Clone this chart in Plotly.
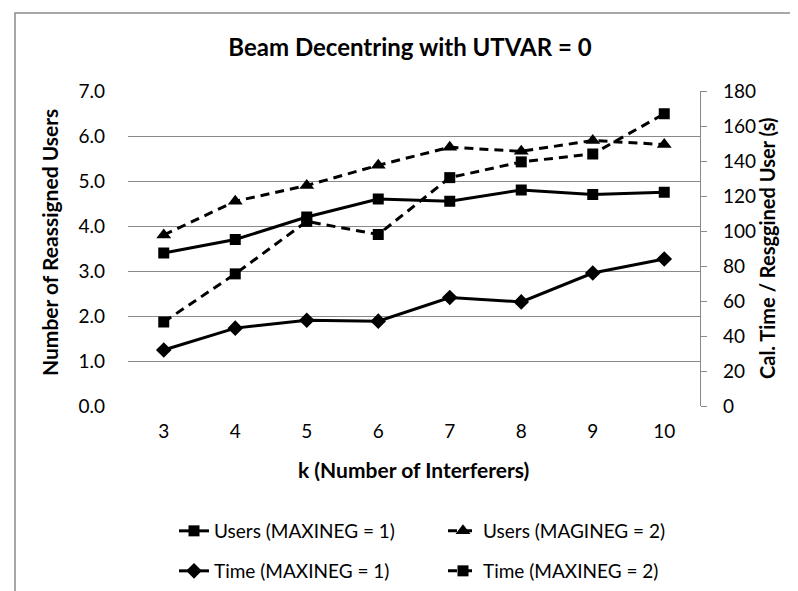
import plotly.graph_objects as go

k_values = [3, 4, 5, 6, 7, 8, 9, 10]
users_maxineg1 = [3.4, 3.7, 4.2, 4.6, 4.55, 4.8, 4.7, 4.75]
users_magineg2 = [3.8, 4.55, 4.9, 5.35, 5.75, 5.66, 5.9, 5.81]
time_maxineg1 = [32, 44.5, 49, 48.5, 62, 59.5, 76, 84]
time_maxineg2 = [48, 75.5, 105.5, 98, 130.5, 139.5, 144, 167]

left_ticks = [0, 1, 2, 3, 4, 5, 6, 7]
right_ticks = [0, 20, 40, 60, 80, 100, 120, 140, 160, 180]

FONT = "Lato"
DASH = "9px,6px"
GRID = "#8a8a8a"

L, R, T, B = 120, 106, 83, 193
W, H = 798, 591
pw, ph = W - L - R, H - T - B


def px_x(p):
    return (p - L) / pw


def px_y(p):
    return (H - B - p) / ph


fig = go.Figure()
fig.add_trace(go.Scatter(
    x=k_values, y=users_maxineg1, name="Users (MAXINEG = 1)", mode="lines+markers",
    line=dict(color="black", width=3), marker=dict(symbol="square", size=11, color="black"),
    yaxis="y", legend="legend"))
fig.add_trace(go.Scatter(
    x=k_values, y=users_magineg2, name="Users (MAGINEG = 2)", mode="lines+markers",
    line=dict(color="black", width=3, dash=DASH), marker=dict(symbol="triangle-up", size=13, color="black"),
    yaxis="y", legend="legend"))
fig.add_trace(go.Scatter(
    x=k_values, y=time_maxineg1, name="Time (MAXINEG = 1)", mode="lines+markers",
    line=dict(color="black", width=3), marker=dict(symbol="diamond", size=12, color="black"),
    yaxis="y2", legend="legend2"))
fig.add_trace(go.Scatter(
    x=k_values, y=time_maxineg2, name="Time (MAXINEG = 2)", mode="lines+markers",
    line=dict(color="black", width=3, dash=DASH), marker=dict(symbol="square", size=11, color="black"),
    yaxis="y2", legend="legend2"))

legend_common = dict(orientation="h", xanchor="left", yanchor="middle",
                     entrywidth=224, entrywidthmode="pixels",
                     font=dict(size=19, family=FONT, color="black"),
                     bgcolor="rgba(0,0,0,0)")

fig.update_layout(
    width=W, height=H,
    margin=dict(l=L, r=R, t=T, b=B, autoexpand=False),
    paper_bgcolor="white", plot_bgcolor="white",
    font=dict(family=FONT, color="black", size=19),
    title=dict(text="<b>Beam Decentring with UTVAR = 0</b>", x=px_x(402), xref="paper",
               xanchor="center", y=1 - 40 / H, yanchor="middle", yref="container",
               font=dict(size=24, family=FONT, color="black")),
    xaxis=dict(range=[2.5, 10.5], tickvals=k_values, ticktext=[str(v) for v in k_values],
               showgrid=False, zeroline=False, showline=False, ticks="",
               tickfont=dict(size=19, family=FONT), ticklabelstandoff=12),
    yaxis=dict(range=[0, 7], tickvals=left_ticks, ticktext=[f"{v:.1f}" for v in left_ticks],
               showgrid=True, gridcolor=GRID, gridwidth=1.3, zeroline=False,
               showline=False, ticks="", tickfont=dict(size=19, family=FONT),
               ticklabelstandoff=22),
    yaxis2=dict(range=[0, 180], tickvals=right_ticks, overlaying="y", side="right",
                showgrid=False, zeroline=False, showline=True, linecolor=GRID, linewidth=1.3,
                ticks="outside", ticklen=6, tickcolor=GRID, tickwidth=1.3,
                tickfont=dict(size=19, family=FONT), ticklabelstandoff=12),
    legend=dict(x=px_x(166), y=px_y(523), **legend_common),
    legend2=dict(x=px_x(166), y=px_y(563), **legend_common),
    showlegend=True,
)

fig.add_annotation(text="<b>Number of Reassigned Users</b>", x=px_x(42), y=px_y(235), xref="paper", yref="paper",
                   textangle=-90, showarrow=False, font=dict(size=21, family=FONT),
                   xanchor="center", yanchor="middle")
fig.add_annotation(text="<b>Cal. Time / Resggined User (s)</b>", x=px_x(759), y=px_y(240), xref="paper", yref="paper",
                   textangle=-90, showarrow=False, font=dict(size=20, family=FONT),
                   xanchor="center", yanchor="middle")
fig.add_annotation(text="<b>k (Number of Interferers)</b>", x=px_x(405), y=px_y(461), xref="paper", yref="paper",
                   showarrow=False, font=dict(size=21, family=FONT),
                   xanchor="center", yanchor="middle")

fig.add_shape(type="rect", xref="paper", yref="paper",
              x0=px_x(7), x1=px_x(820), y0=px_y(640), y1=px_y(5),
              line=dict(color=GRID, width=1.5), layer="below")

fig.write_html("out.html")
